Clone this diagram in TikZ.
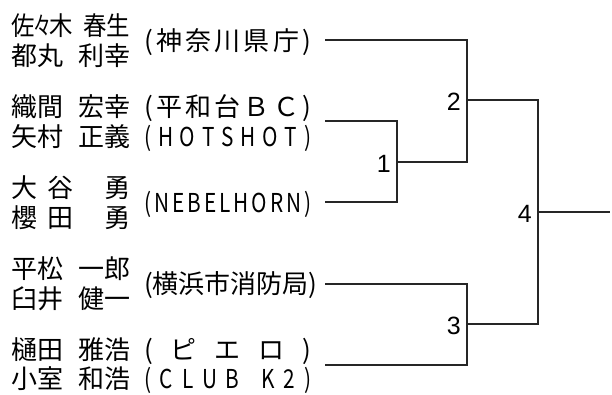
\documentclass[tikz,border=0pt]{standalone}
\usepackage{fontspec}
\usepackage{graphicx}
\newfontfamily\jpfont{Noto Sans CJK JP}
\newfontfamily\numfont{Liberation Sans}
\newcommand\pname[1]{\makebox[119pt][s]{#1}}
\newcommand\spreaditem[1]{#1}
\def\spreadend{\spreadend}
\def\spreadfirst#1{\spreaditem{#1}\spreadnext}
\def\spreadnext#1{\ifx#1\spreadend\else\hfill\spreaditem{#1}\expandafter\spreadnext\fi}
\newcommand\cname[1]{\makebox[167pt][s]{\spreadfirst#1\spreadend}}
\newcommand\lname[1]{{\renewcommand\spreaditem[1]{\scalebox{0.8}[1]{##1}}\cname{#1}}}
\begin{document}
\begin{tikzpicture}[x=1pt,y=-1pt,every node/.style={inner sep=0pt},
  player/.style={anchor=base west,font=\jpfont\fontsize{26}{30}\selectfont},
  team/.style={anchor=base west,font=\jpfont\fontsize{26}{30}\selectfont},
  bline/.style={draw=black!85,line width=1.3pt},
  matchno/.style={anchor=east,font=\numfont\fontsize{25}{29}\selectfont}]

\useasboundingbox (0,0) rectangle (612,394);

\node [player] (s1a) at (11,35) {\pname{\scalebox{0.9}[1]{佐\makebox[17pt]{\scalebox{0.78}[1]{々}}木}\hfill\scalebox{0.9}[1]{春生}}};

\node [player] (s1b) at (11,65) {\pname{都丸 利幸}};

\node [team] (t1) at (144,50) {\cname{(神奈川県庁)}};

\node [player] (s2a) at (11,116) {\pname{織間 宏幸}};

\node [player] (s2b) at (11,146) {\pname{矢村 正義}};

\node [team] (t2a) at (144,116) {\cname{(平和台ＢＣ)}};

\node [team] (t2b) at (144,146) {\lname{(HOTSHOT)}};

\node [player] (s3a) at (11,197) {\pname{大\hspace{10pt}谷\hfill 勇}};

\node [player] (s3b) at (11,227) {\pname{櫻\hspace{10pt}田\hfill 勇}};

\node [team] (t3) at (144,212) {\lname{(NEBELHORN)}};

\node [player] (s4a) at (11,278) {\pname{平松 一郎}};

\node [player] (s4b) at (11,308) {\pname{臼井 健一}};

\node [team] (t4) at (144,293) {\cname{(横浜市消防局)}};

\node [player] (s5a) at (11,359) {\pname{樋田 雅浩}};

\node [player] (s5b) at (11,388) {\pname{小室 和浩}};

\node [team] (t5a) at (144,359) {\cname{(ピエロ)}};

\node [team] (t5b) at (144,388) {\lname{(CLUB~K2)}};

\coordinate (e1) at (325,40);

\coordinate (e2) at (325,121);

\coordinate (e3) at (325,202);

\coordinate (e4) at (325,284);

\coordinate (e5) at (325,365);

\coordinate (m1) at (397,162);

\coordinate (m2) at (467,100);

\coordinate (m3) at (467,324);

\coordinate (m4) at (538,212);

\coordinate (win) at (610,212);

\draw [bline] (e2) -| (m1) |- (e3);

\draw [bline] (e1) -| (m2) |- (m1);

\draw [bline] (e4) -| (m3) |- (e5);

\draw [bline] (m2) -| (m4) |- (m3);

\draw [bline] (m4) -- (win);

\node [matchno] (n1) at ([xshift=-6pt,yshift=-2pt]m1) {1};

\node [matchno] (n2) at ([xshift=-6pt,yshift=-2pt]m2) {2};

\node [matchno] (n3) at ([xshift=-6pt,yshift=-2pt]m3) {3};

\node [matchno] (n4) at ([xshift=-6pt,yshift=-2pt]m4) {4};

\end{tikzpicture}
\end{document}
